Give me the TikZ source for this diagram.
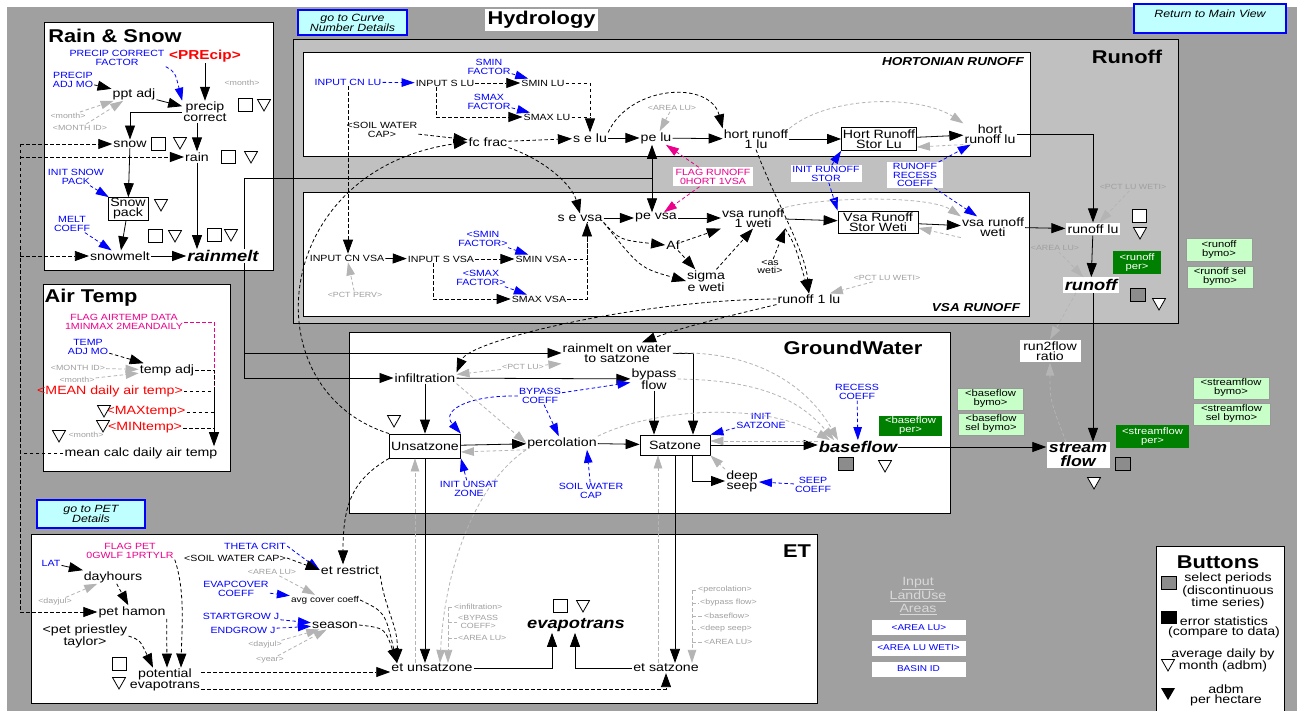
\documentclass[tikz,border=0pt]{standalone}
\usepackage{fontspec}
\setmainfont{Liberation Sans}[FakeStretch=1.18]
\usetikzlibrary{arrows.meta,calc}
\definecolor{bgG}{HTML}{A0A0A0}
\definecolor{ltG}{HTML}{C0C0C0}
\definecolor{gtxt}{HTML}{A0A0A0}
\definecolor{garc}{HTML}{B4B4B4}
\definecolor{dgreen}{HTML}{008000}
\definecolor{lgreen}{HTML}{C8FFC8}
\definecolor{cyanb}{HTML}{C0FFFF}
\definecolor{sqg}{HTML}{8C8C8C}
\definecolor{ulg}{HTML}{D8D8D8}
\newcommand\fsz[2]{\fontsize{#1}{#2}\selectfont}
\newcommand\wsq[2]{\draw[fill=white,line width=0.8pt] ({#1-7},{#2-6.5}) rectangle ({#1+7},{#2+6.5});}
\newcommand\gsq[2]{\draw[fill=sqg,line width=0.8pt] ({#1-7.5},{#2-6.5}) rectangle ({#1+7.5},{#2+6.5});}
\newcommand\wtri[2]{\draw[fill=white,line width=0.8pt] ({#1-6.5},{#2-5.5}) -- ({#1+6.5},{#2-5.5}) -- (#1,{#2+6}) -- cycle;}
\tikzset{
 txt/.style={font=\fsz{12}{10}, inner sep=1pt, align=center},
 sm/.style={font=\fsz{9}{8.5}, inner sep=1pt, align=center},
 blu/.style={sm, text=blue},
 mag/.style={sm, text=magenta},
 gry/.style={font=\fsz{7.5}{7.5}, inner sep=1pt, align=center, text=gtxt},
 redt/.style={font=\fsz{12}{12}, inner sep=1pt, text=red},
 ttl/.style={font=\bfseries\fsz{18.5}{18.5}, inner sep=1pt},
 bigit/.style={font=\bfseries\itshape\fsz{15.5}{12}, inner sep=1pt, align=center},
 secit/.style={font=\bfseries\itshape\fsz{11.5}{11.5}, inner sep=1pt},
 stock/.style={txt, draw, fill=white, line width=0.8pt, inner sep=1pt},
 wbox/.style={txt, fill=white, inner sep=2pt},
 panel/.style={draw, fill=white, line width=1pt},
 btn/.style={draw=blue, line width=2.5pt, fill=cyanb, font=\itshape\fsz{10.5}{10}, align=center, inner sep=0pt},
 dgbox/.style={fill=dgreen, text=white, font=\fsz{9.5}{9}, align=center, inner sep=0pt},
 lgbox/.style={fill=lgreen, draw=gray!80, line width=1pt, font=\fsz{9.5}{9}, align=center, inner sep=0pt},
 abox/.style={fill=white, text=blue, font=\fsz{8.5}{8.5}, minimum width=94pt, minimum height=15pt, inner sep=0pt},
 btxt/.style={font=\fsz{12}{10}, align=center, inner sep=0pt},
 atip/.style={-{Triangle[length=14pt,width=10pt]}},
 ctip/.style={-{Triangle[length=13pt,width=8.5pt]}},
 arr/.style={atip, line width=0.8pt, black},
 dsh/.style={line width=0.8pt, dash pattern=on 3.5pt off 2.5pt},
 darr/.style={arr, dsh},
 barr/.style={ctip, blue, line width=0.8pt, dash pattern=on 3.5pt off 2.5pt},
 garr/.style={ctip, garc, line width=0.8pt, dash pattern=on 3.5pt off 2.5pt},
 marr/.style={ctip, magenta, line width=0.8pt, dash pattern=on 3.5pt off 2.5pt},
}
\begin{document}
\begin{tikzpicture}[x=1pt,y=-1pt]
\useasboundingbox (0,0) rectangle (1297,711);
\fill[white] (0,0) rectangle (1297,711);
\fill[bgG] (7,7) rectangle (1297,711);
% ---------- panels
\draw[fill=ltG, line width=1pt] (293,40) rectangle (1178,323);
\draw[panel] (303,53) rectangle (1030,157);
\draw[panel] (303,193) rectangle (1029,316);
\draw[panel] (44,23) rectangle (273,270);
\draw[panel] (43,284) rectangle (230,471);
\draw[panel] (349,332) rectangle (950,513);
\draw[panel] (31,534) rectangle (817,703);
\draw[panel] (1156,546) rectangle (1284,720);
% ---------- top buttons
\node[btn, minimum width=109pt, minimum height=25pt] (gcn) at (352.5,22.5) {go to Curve\\Number Details};
\node[fill=white, minimum width=113pt, minimum height=22pt, font=\bfseries\fsz{18.5}{18.5}, inner sep=0pt] (hyd) at (541.5,20) {Hydrology};
\draw[draw=blue, line width=2.5pt, fill=cyanb] (1134,4) rectangle (1286,33);
\node[font=\itshape\fsz{10.5}{10}, inner sep=0pt] (rmv) at (1210,14) {Return to Main View};
\node[btn, minimum width=108pt, minimum height=28pt] (gpet) at (91,514) {go to PET\\Details};
% ========== Rain & Snow
\node[ttl] (tRS) at (115,36) {Rain \& Snow};
\node[blu] (pcf) at (117,58) {PRECIP CORRECT\\FACTOR};
\node[font=\bfseries\fsz{13}{13}, text=red, inner sep=1pt] (precip) at (205,56) {<PREcip>};
\node[blu] (pam) at (73,80) {PRECIP\\ADJ MO};
\node[txt] (pptadj) at (134,94) {ppt adj};
\node[txt] (pc) at (205,112) {precip\\correct};
\node[gry] (m1) at (242,83) {<month>};
\node[gry] (m2) at (68,116) {<month>};
\node[gry] (mid1) at (80,128) {<MONTH ID>};
\node[txt] (snow) at (130,144) {snow};
\node[txt] (rain) at (197,157) {rain};
\node[blu] (isp) at (76,177) {INIT SNOW\\PACK};
\node[stock, minimum width=40pt, minimum height=22pt] (spack) at (128,209) {Snow\\pack};
\node[blu] (mc) at (72,224) {MELT\\COEFF};
\node[txt] (smelt) at (120,256) {snowmelt};
\node[bigit] (rmelt) at (223,256) {rainmelt};
\wsq{245}{105}\wtri{264}{105}
\wsq{158}{144}\wtri{180}{143}
\wsq{228}{157}\wtri{251}{157}
\wtri{161}{205}
\wsq{155}{236}\wtri{175}{236}
\wsq{214}{235}\wtri{231}{235}
\draw[darr] (pam) -- (pptadj);
\draw[garr] (m2) -- (pptadj);
\draw[garr] (mid1) -- (pptadj);
\draw[barr] (pcf.south east) .. controls (175,72) .. (pc.north west);
\draw[arr] (precip) -- (precip |- pc.north);
\draw[arr] (pptadj) -- (pc);
\draw[arr] (pc.west) -| (snow);
\draw[arr] (pc.south -| rain) -- (rain);
\draw[arr] (snow) -- (spack);
\draw[barr] (isp) -- (spack);
\draw[arr] (spack) -- (smelt);
\draw[barr] (mc) -- (smelt);
\draw[arr] (rain) -- (rain |- rmelt.north);
\draw[arr] (smelt) -- (rmelt);
% ========== Air Temp
\node[ttl] (tAT) at (91,298) {Air Temp};
\node[mag] (flagat) at (124,322) {FLAG AIRTEMP DATA\\1MINMAX 2MEANDAILY};
\node[blu] (tam) at (88,347) {TEMP\\ADJ MO};
\node[txt] (tadj) at (167,370) {temp adj};
\node[gry] (mid2) at (78,368) {<MONTH ID>};
\node[gry] (m3) at (77,380) {<month>};
\node[redt] (mean) at (110,391) {<MEAN daily air temp>};
\node[redt] (maxt) at (146,412) {<MAXtemp>};
\node[redt] (mint) at (145,428) {<MINtemp>};
\node[gry] (m4) at (86,435) {<month>};
\node[txt] (mcd) at (141,453) {mean calc daily air temp};
\wtri{104}{411}\wtri{103}{426}\wtri{59}{436}
\coordinate (atj) at (214,432);
\draw[darr] (tam) -- (tadj);
\draw[garr] (mid2) -- (tadj);
\draw[garr] (m3) -- (tadj);
\draw[dsh, magenta] (flagat.east) -| (atj);
\draw[dsh] (tadj) -| (atj);
\draw[dsh] (mean) -| (atj);
\draw[dsh] (maxt) -| (atj);
\draw[dsh] (mint) -| (atj);
\draw[darr] (atj) -- (atj |- mcd.north);
% bus from mean calc daily air temp
\coordinate (bus1) at (20,144);
\coordinate (bus2) at (20,157);
\coordinate (bus3) at (20,256);
\coordinate (bus4) at (20,612);
\draw[dsh] (mcd.west) -- (mcd.west -| bus1);
\draw[dsh] (bus1) -- (bus4);
\draw[darr] (bus1) -- (snow);
\draw[darr] (bus2) -- (rain);
\draw[darr] (bus3) -- (smelt);
% ========== Runoff
\node[ttl] (trun) at (1127,57) {Runoff};
\node[secit] (thort) at (953,62) {HORTONIAN RUNOFF};
\node[blu] (icnlu) at (348,82) {INPUT CN LU};
\node[sm] (islu) at (445,83) {INPUT S LU};
\node[blu] (sminf) at (489,67) {SMIN\\FACTOR};
\node[sm] (sminlu) at (543,83) {SMIN LU};
\node[blu] (smaxf) at (489,102) {SMAX\\FACTOR};
\node[sm] (smaxlu) at (547,117) {SMAX LU};
\node[sm] (swc1) at (382,130) {<SOIL WATER\\CAP>};
\node[txt] (fcfrac) at (488,142) {fc frac};
\node[txt] (selu) at (590,138) {s e lu};
\node[txt] (pelu) at (656,138) {pe lu};
\node[gry] (alu1) at (672,108) {<AREA LU>};
\node[txt] (hr1lu) at (756,139) {hort runoff\\1 lu};
\node[stock, minimum width=75pt, minimum height=23pt] (hrslu) at (879,139) {Hort Runoff\\Stor Lu};
\node[txt] (hrlu) at (990,134) {hort\\runoff lu};
\node[fill=white, mag, minimum width=80pt, minimum height=19pt] (flagro) at (713,177) {FLAG RUNOFF\\0HORT 1VSA};
\node[fill=white, blu, minimum width=71pt, minimum height=17pt] (iros) at (826,174) {INIT RUNOFF\\STOR};
\node[fill=white, blu, minimum width=56pt, minimum height=25pt] (rrc) at (915,175) {RUNOFF\\RECESS\\COEFF};
\node[gry] (pctlw1) at (1133,187) {<PCT LU WETI>};
\node[wbox] (rolu) at (1093,229) {runoff lu};
\wsq{1139}{216}\wtri{1140}{233}
% VSA
\node[secit] (tvsa) at (976,308) {VSA RUNOFF};
\node[sm] (icnvsa) at (347,258) {INPUT CN VSA};
\node[sm] (isvsa) at (441,259) {INPUT S VSA};
\node[blu] (sminf2) at (483,239) {<SMIN\\FACTOR>};
\node[sm] (sminvsa) at (541,259) {SMIN VSA};
\node[blu] (smaxf2) at (481,278) {<SMAX\\FACTOR>};
\node[sm] (smaxvsa) at (539,299) {SMAX VSA};
\node[gry] (pctperv) at (355,295) {<PCT PERV>};
\node[txt] (sevsa) at (580,218) {s e vsa};
\node[txt] (pevsa) at (656,218) {pe vsa};
\node[txt] (vr1w) at (753,218) {vsa runoff\\1 weti};
\node[stock, minimum width=80pt, minimum height=22pt] (vrsw) at (878,222) {Vsa Runoff\\Stor Weti};
\node[txt] (vrw) at (993,227) {vsa runoff\\weti};
\node[txt] (af) at (673,245) {Af};
\node[txt] (sigma) at (706,281) {sigma\\e weti};
\node[sm] (asweti) at (770,267) {<as\\weti>};
\node[txt] (ro1lu) at (809,299) {runoff 1 lu};
\node[gry] (pctlw2) at (887,278) {<PCT LU WETI>};
\node[gry] (alu2) at (1055,248) {<AREA LU>};
\node[bigit, fill=white, inner sep=2pt] (runoff) at (1091,285) {runoff};
\gsq{1138}{295}\wtri{1159}{304}
\node[wbox, minimum width=61pt] (r2f) at (1050,351) {run2flow\\ratio};
\node[font=\bfseries\itshape\fsz{15}{14}, align=center, fill=white, inner sep=1pt, minimum width=63pt] (sflow) at (1078,455) {stream\\flow};
\gsq{1123}{464}\wtri{1094}{483}
% green boxes
\node[dgbox, minimum width=48pt, minimum height=23pt] (rper) at (1137,262.5) {<runoff\\per>};
\node[lgbox, minimum width=66pt, minimum height=22pt] (rbymo) at (1219,250) {<runoff\\bymo>};
\node[lgbox, minimum width=66pt, minimum height=22pt] (rsbymo) at (1220,277) {<runoff sel\\bymo>};
\node[lgbox, minimum width=66pt, minimum height=22pt] (bbymo) at (990.5,399) {<baseflow\\bymo>};
\node[lgbox, minimum width=66pt, minimum height=22pt] (bsbymo) at (991,424) {<baseflow\\sel bymo>};
\node[dgbox, minimum width=63pt, minimum height=20pt] (bper) at (910.5,426) {<baseflow\\per>};
\node[lgbox, minimum width=76pt, minimum height=22pt] (sbymo) at (1231,388) {<streamflow\\bymo>};
\node[lgbox, minimum width=77pt, minimum height=22pt] (ssbymo) at (1231.5,414) {<streamflow\\sel bymo>};
\node[dgbox, minimum width=73pt, minimum height=23pt] (sper) at (1152.5,436.5) {<streamflow\\per>};
% runoff arrows
\draw[barr] (icnlu) -- (islu);
\draw[darr] (icnlu) -- (icnlu |- icnvsa.north);
\draw[darr] (islu) -- (sminlu);
\draw[darr] ([xshift=-9]islu.south) |- (smaxlu);
\draw[barr] (sminf) -- (sminlu);
\draw[barr] (smaxf) -- (smaxlu);
\draw[darr] (sminlu) -| (selu);
\draw[dsh] (smaxlu.east) -- (smaxlu.east -| selu);
\draw[darr] (swc1) -- (fcfrac);
\draw[darr] (fcfrac) -- (selu);
\draw[darr] (fcfrac.south east) .. controls (545,160) and (572,185) .. (sevsa.north);
\draw[arr] (selu) -- (pelu);
\draw[arr] (pelu) -- (hr1lu);
\draw[garr] (alu1) -- (pelu);
\draw[darr] (selu.north east) .. controls (630,85) and (710,80) .. (hr1lu.north west);
\draw[arr] (hr1lu) -- (hrslu);
\draw[arr] (hrslu) -- (hrlu);
\draw[garr] (hr1lu.north east) .. controls (830,95) and (920,95) .. (hrlu.north west);
\draw[garr] (hrlu.south west) -- ([yshift=-8]hrslu.east);
\draw[barr] (iros) -- (hrslu.south west);
\draw[barr] (iros) -- (vrsw.north west);
\draw[barr] (rrc) -- (hrlu);
\draw[barr] (rrc) -- (vrw);
\draw[marr] (flagro) -- (pelu);
\draw[marr] (flagro) -- (pevsa);
\draw[darr] (hr1lu.south) .. controls (775,200) and (805,250) .. (ro1lu.north);
\draw[darr] (vr1w.south east) .. controls (795,245) .. (ro1lu.north);
\draw[garr] (pctlw1) -- (rolu);
\draw[garr] (pctlw2) -- (ro1lu);
\draw[arr] (hrlu.east) -| (rolu.north);
\draw[arr] (vrw) -- (rolu);
\draw[arr] (rolu) -- (runoff);
\draw[garr] (alu2) -- (runoff);
\draw[arr] (runoff.south -| rolu) -- (rolu |- sflow.north);
\draw[garr] ([xshift=-15]runoff.south) -- (r2f.north);
\draw[garr] ([xshift=-12]sflow.north) .. controls (1050,400) .. (r2f.south);
% VSA arrows
\draw[arr] (icnvsa) -- (isvsa);
\draw[garr] (pctperv) -- (icnvsa);
\draw[darr] (isvsa) -- (sminvsa);
\draw[darr] ([xshift=-8]isvsa.south) |- (smaxvsa);
\draw[barr] (sminf2) -- (sminvsa);
\draw[barr] (smaxf2) -- (smaxvsa);
\draw[darr] (sminvsa) -| ([xshift=7]sevsa.south);
\draw[dsh] (smaxvsa) -| ([xshift=7]sevsa.south);
\draw[arr] (sevsa) -- (pevsa);
\draw[arr] (pevsa) -- (vr1w);
\draw[darr] (sevsa.south east) .. controls (620,240) .. (af.west);
\draw[darr] (sevsa.south east) .. controls (640,268) .. (sigma.west);
\draw[darr] (af) -- (sigma);
\draw[darr] (af) -- (vr1w.south west);
\draw[darr] (sigma) -- (vr1w.south);
\draw[darr] (asweti) -- (vr1w.south east);
\draw[arr] (vr1w) -- (vrsw);
\draw[arr] (vrsw) -- (vrw);
\draw[garr] (vr1w.north east) .. controls (830,196) and (930,196) .. (vrw.north west);
\draw[garr] (vrw.south west) -- ([yshift=-6]vrsw.east);
% rainmelt distribution
\coordinate (rmA) at (244,178);
\coordinate (pj) at (652,178);
\draw[line width=0.8pt] (rmelt.north -| rmA) -- (rmA) -- (pj);
\draw[arr] (pj) -- (pj |- pelu.south);
\draw[arr] (pj) -- (pj |- pevsa.north);
% ========== GroundWater
\node[ttl] (tgw) at (853,348) {GroundWater};
\node[txt] (rows) at (617,353) {rainmelt on water\\to satzone};
\node[txt] (infil) at (425,378) {infiltration};
\node[gry] (pctlu) at (523,367) {<PCT LU>};
\node[txt] (bypass) at (654,379) {bypass\\flow};
\node[blu] (bpc) at (540,396) {BYPASS\\COEFF};
\node[stock, minimum width=71pt, minimum height=24pt] (unsat) at (425,446) {Unsatzone};
\node[txt] (perc) at (562,443) {percolation};
\node[stock, minimum width=70pt, minimum height=20pt] (satz) at (675,445) {Satzone};
\node[blu] (isz) at (761,421) {INIT\\SATZONE};
\node[blu] (rc) at (857,392) {RECESS\\COEFF};
\node[bigit] (bflow) at (858,447) {baseflow};
\node[txt] (dseep) at (742,481) {deep\\seep};
\node[blu] (sc) at (813,485) {SEEP\\COEFF};
\node[blu] (iuz) at (469,489) {INIT UNSAT\\ZONE};
\node[blu] (swc2) at (591,491) {SOIL WATER\\CAP};
\wtri{394}{421}
\gsq{846}{464}\wtri{885}{466}
\draw[darr] (unsat.north west) .. controls (250,390) and (270,170) .. (fcfrac.west);
\draw[arr] (rmelt.south -| rmA) |- (infil);
\draw[arr] (rmelt.south -| rmA) |- (rows);
\draw[darr] (ro1lu.west) .. controls (640,300) and (470,340) .. (infil.north east);
\draw[darr] (ro1lu.south west) .. controls (720,318) and (680,328) .. ([xshift=25]rows.north);
\draw[arr] (infil) -- (bypass);
\draw[arr] (infil) -- (unsat);
\draw[garr] (pctlu) -- (infil);
\draw[garr] (pctlu) -- (rows.south west);
\draw[barr] (bpc.west) .. controls (470,395) and (440,410) .. (unsat.north east);
\draw[barr] (bpc) -- (bypass);
\draw[barr] (bpc) -- (perc);
\draw[garr] (infil.south east) -- (perc.west);
\draw[arr] (unsat) -- (perc);
\draw[garr] (perc.south west) -- ([yshift=-6]unsat.east);
\draw[arr] (perc) -- (satz);
\draw[arr] (bypass.south) -- (bypass.south |- satz.north);
\draw[arr] (rows.east) -| ([xshift=18]satz.north);
\draw[garr] (rows.east) .. controls (760,350) and (810,390) .. ([xshift=-20]bflow.north);
\draw[garr] (bypass.east) .. controls (760,380) and (800,400) .. ([xshift=-24]bflow.north);
\draw[garr] (perc.north east) .. controls (650,410) and (760,400) .. ([xshift=-28]bflow.north);
\draw[barr] (rc) -- (bflow);
\draw[barr] (isz) -- (satz.north east);
\draw[arr] (satz.east) -- (satz.east -| bflow.west);
\draw[garr] ([yshift=6]bflow.west) -- ([yshift=4]satz.east);
\draw[garr] (dseep.north west) -- (satz.south east);
\draw[arr] ([xshift=17]satz.south) |- (dseep.west);
\draw[barr] (sc) -- (dseep);
\draw[barr] (iuz) -- (unsat.south east);
\draw[barr] (swc2) -- ([xshift=25]perc.south);
\draw[arr] (bflow.east) -- (bflow.east -| sflow.west);
% ========== ET
\node[ttl] (tet) at (797,551) {ET};
\node[mag] (flagpet) at (130,551) {FLAG PET\\0GWLF 1PRTYLR};
\node[blu] (lat) at (51,563) {LAT};
\node[txt] (dayh) at (113,577) {dayhours};
\node[gry] (dj1) at (55,602) {<dayjul>};
\node[txt] (peth) at (132,612) {pet hamon};
\node[txt] (ppt) at (85,636) {<pet priestley\\taylor>};
\node[txt] (potet) at (165,680) {potential\\evapotrans};
\wsq{119}{664}\wtri{119}{683}
\node[blu] (theta) at (255,546) {THETA CRIT};
\node[sm] (swc3) at (235,558) {<SOIL WATER CAP>};
\node[txt] (etr) at (350,570) {et restrict};
\node[gry] (alu3) at (272,572) {<AREA LU>};
\node[blu] (evc) at (236,589) {EVAPCOVER\\COEFF};
\node[font=\fsz{8.5}{8.5}, inner sep=1pt] (acc) at (325,600) {avg cover coeff};
\node[blu] (sgj) at (241,616) {STARTGROW J};
\node[blu] (egj) at (243,630) {ENDGROW J};
\node[txt] (season) at (335,625) {season};
\node[gry] (dj2) at (265,645) {<dayjul>};
\node[gry] (year) at (270,660) {<year>};
\node[txt] (etu) at (432,668) {et unsatzone};
\node[bigit] (evap) at (576,625) {evapotrans};
\wsq{560}{606}\wtri{583}{606}
\node[txt] (ets) at (666,668) {et satzone};
\node[gry, anchor=west] (ginf) at (453,607) {<infiltration>};
\node[gry, anchor=west] (gbc) at (457,622) {<BYPASS\\COEFF>};
\node[gry, anchor=west] (galu) at (457,638) {<AREA LU>};
\node[gry, anchor=west] (gperc) at (697,590) {<percolation>};
\node[gry, anchor=west] (gbyp) at (699,603) {<bypass flow>};
\node[gry, anchor=west] (gbase) at (703,616) {<baseflow>};
\node[gry, anchor=west] (gdeep) at (699,629) {<deep seep>};
\node[gry, anchor=west] (galu2) at (703,642) {<AREA LU>};
\coordinate (gl1) at (448,607);
\coordinate (gl2) at (692,590);
\draw[dsh, garc] (gl1) -- (ginf.west);
\draw[dsh, garc] (gl1 |- gbc.west) -- (gbc.west);
\draw[dsh, garc] (gl1 |- galu.west) -- (galu.west);
\draw[garr] (gl1) -- (gl1 |- etu.north);
\draw[dsh, garc] (gl2) -- (gperc.west);
\draw[dsh, garc] (gl2 |- gbyp.west) -- (gbyp.west);
\draw[dsh, garc] (gl2 |- gbase.west) -- (gbase.west);
\draw[dsh, garc] (gl2 |- gdeep.west) -- (gdeep.west);
\draw[dsh, garc] (gl2 |- galu2.west) -- (galu2.west);
\draw[garr] (gl2) -- (gl2 |- ets.north);
% ET arrows
\draw[arr] (lat) -- (dayh);
\draw[garr] (dj1) -- (dayh);
\draw[darr] (dayh) -- (peth);
\draw[darr] (bus4) -- (peth);
\draw[darr] (peth.south east) -- ([xshift=2]potet.north);
\draw[darr] (flagpet.south east) .. controls (185,590) and (182,625) .. ([xshift=16]potet.north);
\draw[darr] (ppt.east) .. controls (140,640) .. ([xshift=-12]potet.north);
\draw[darr] ([yshift=8]potet.east) -- ([yshift=8]potet.east -| etu.west);
\draw[darr] ([yshift=-9]potet.east) -| (ets.south);
\draw[barr] (theta.east) -- (etr.west);
\draw[darr] (swc3.east) -- (etr.west);
\draw[garr] (alu3) -- (acc);
\draw[barr] (evc) -- (acc);
\draw[barr] (sgj) -- (season);
\draw[barr] (egj) -- (season);
\draw[garr] (dj2) -- (season);
\draw[garr] (year) -- (season);
\draw[darr] (etr.south east) .. controls (385,610) and (398,625) .. ([xshift=-35]etu.north);
\draw[darr] (acc.east) .. controls (385,612) .. ([xshift=-35]etu.north);
\draw[darr] (season.east) .. controls (385,628) .. ([xshift=-35]etu.north);
\draw[darr] (unsat.south west) .. controls (352,480) and (343,505) .. ([xshift=-7]etr.north);
\draw[arr] (unsat.south) -- (unsat.south |- etu.north);
\draw[garr] ([xshift=-17]etu.north) -- ([xshift=-17]etu.north |- unsat.south);
\draw[garr] (perc.south west) .. controls (480,480) and (445,560) .. ([xshift=8]etu.north);
\draw[arr] (satz.south) -- (satz.south |- ets.north);
\draw[garr] ([xshift=-8]ets.north) -- ([xshift=-8]ets.north |- satz.south);
\draw[arr] (etu.east) -| ([xshift=-24]evap.south);
\draw[arr] (ets.west) -| ([xshift=-1]evap.south);
% ========== Input LandUse Areas
\node[font=\fsz{12}{13}, text=ulg, align=center, inner sep=0pt] (ilu) at (918,596) {\underline{Input}\\\underline{LandUse}\\\underline{Areas}};
\node[abox] (aa1) at (919,627.5) {<AREA LU>};
\node[abox] (aa2) at (918.5,648) {<AREA LU WETI>};
\node[abox] (aa3) at (918.5,669) {BASIN ID};
% ========== Buttons legend
\node[ttl] (tbut) at (1218,562) {Buttons};
\gsq{1169}{583}
\fill (1161,611) rectangle (1177,624);
\wtri{1168}{665}
\fill (1161,688) -- (1175,688) -- (1168,700) -- cycle;
\node[btxt] (b1) at (1228,591) {select periods\\(discontinuous\\time series)};
\node[btxt] (b2) at (1224,627) {error statistics\\(compare to data)};
\node[btxt] (b3) at (1223,660) {average daily by\\month (adbm)};
\node[btxt] (b4) at (1226,695) {adbm\\per hectare};
\end{tikzpicture}
\end{document}
